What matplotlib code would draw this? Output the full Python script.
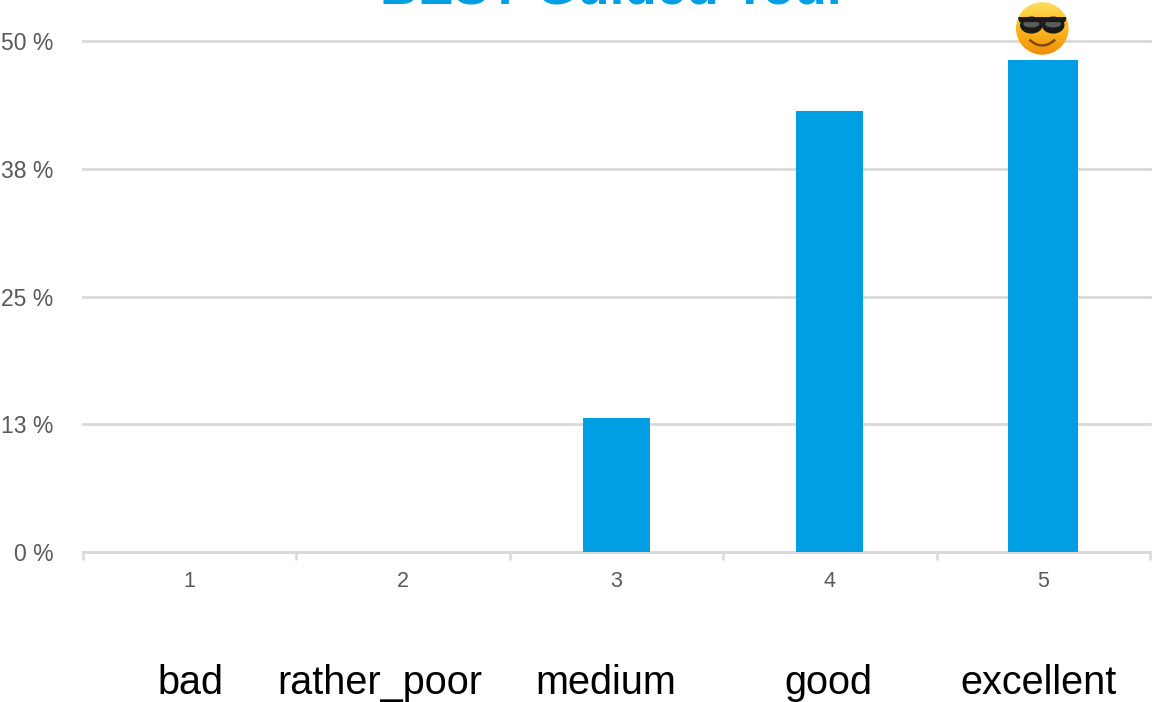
import matplotlib
matplotlib.use("Agg")
import matplotlib.pyplot as plt
from matplotlib.patches import Circle, Polygon, PathPatch, Ellipse
from matplotlib.path import Path
from matplotlib.colors import LinearSegmentedColormap
import numpy as np

# Chart data
ratings = ["1", "2", "3", "4", "5"]
rating_names = ["bad", "rather_poor", "medium", "good", "excellent"]
percentages = [0, 0, 13.1, 43.15, 48.1]
y_ticks = [0, 12.5, 25, 37.5, 50]
y_tick_labels = ["0 %", "13 %", "25 %", "38 %", "50 %"]
title = "BEST Guided Tour"

blue = "#009fe3"
grey = "#d9d9d9"
text_grey = "#595959"
W, H = 1153, 702

plt.rcParams["font.family"] = ["Liberation Sans", "DejaVu Sans"]

fig = plt.figure(figsize=(W / 100, H / 100), dpi=100)
ax = fig.add_axes([82.5 / W, (H - 552) / H, 1067.5 / W, 511 / H])

x = np.arange(len(ratings))
ax.bar(x, percentages, width=[0.315, 0.315, 0.315, 0.315, 0.328], color=blue, zorder=3)

ax.set_xlim(-0.5, 4.5)
ax.set_ylim(0, 50)
ax.set_yticks(y_ticks)
ax.set_yticklabels(y_tick_labels, fontsize=16.5, color=text_grey)
ax.tick_params(axis="y", length=0, pad=21)

# ticks sit between the categories, labels in the middle
ax.set_xticks(np.append(x - 0.5, 4.5))
ax.set_xticklabels([])
ax.tick_params(axis="x", length=6, width=1.8, color=grey)
ax.set_xticks(x, minor=True)
ax.set_xticklabels(ratings, minor=True, fontsize=15.5, color=text_grey)
ax.tick_params(axis="x", which="minor", length=0, pad=14)

ax.grid(True, axis="y", color=grey, linewidth=2, zorder=0, clip_on=False)
for side in ["top", "left", "right"]:
    ax.spines[side].set_visible(False)
ax.spines["bottom"].set_color(grey)
ax.spines["bottom"].set_linewidth(2)

# Big category names under the axis, not quite centred in the original
name_shifts = [1, -23, -10, -1, -5]
for pos, name, shift in zip(x, rating_names, name_shifts):
    ax.annotate(name, xy=(pos, 0), xycoords=("data", "axes fraction"),
                xytext=(shift, -142), textcoords="offset pixels",
                ha="center", va="baseline", fontsize=28.5, color="black")

# Title is cut off by the top edge in the original
fig.text(613.5 / W, (H - 4) / H, title, ha="center", va="baseline",
         fontsize=38.2, fontweight="bold", color=blue)

# Sunglasses emoji above the last bar, drawn by hand
top_px = ax.transData.transform((x[-1], percentages[-1]))
size = 56
cx, cy = top_px[0] - 1, top_px[1] + 32
emoji = fig.add_axes([(cx - size / 2) / W, (cy - size / 2) / H, size / W, size / H], zorder=5)
emoji.set_xlim(-1, 1)
emoji.set_ylim(-1, 1)
emoji.axis("off")
cmap = LinearSegmentedColormap.from_list("face", ["#ef8c0a", "#f9ab17", "#fdc52f", "#ffe268"])
grad = emoji.imshow(np.linspace(0, 1, 64)[:, None], extent=(-1, 1, -1, 1), origin="lower",
                    cmap=cmap, aspect="auto")
grad.set_clip_path(Circle((0, 0), 0.94, transform=emoji.transData))
for sx in (-1, 1):
    emoji.add_patch(Ellipse((sx * 0.39, 0.12), 0.76, 0.56, color="#1a1a1a"))
    emoji.add_patch(Ellipse((sx * 0.39, 0.16), 0.52, 0.2, color="#5c5c5c"))
emoji.add_patch(Polygon([(-0.84, 0.38), (0.84, 0.38), (0.8, 0.25), (-0.8, 0.25)], color="#1a1a1a"))
smile = Path([(-0.46, -0.4), (0, -0.82), (0.46, -0.4)], [Path.MOVETO, Path.CURVE3, Path.CURVE3])
emoji.add_patch(PathPatch(smile, fill=False, edgecolor="#7a4a12", linewidth=1.8))

plt.savefig("out.png", dpi=100)
